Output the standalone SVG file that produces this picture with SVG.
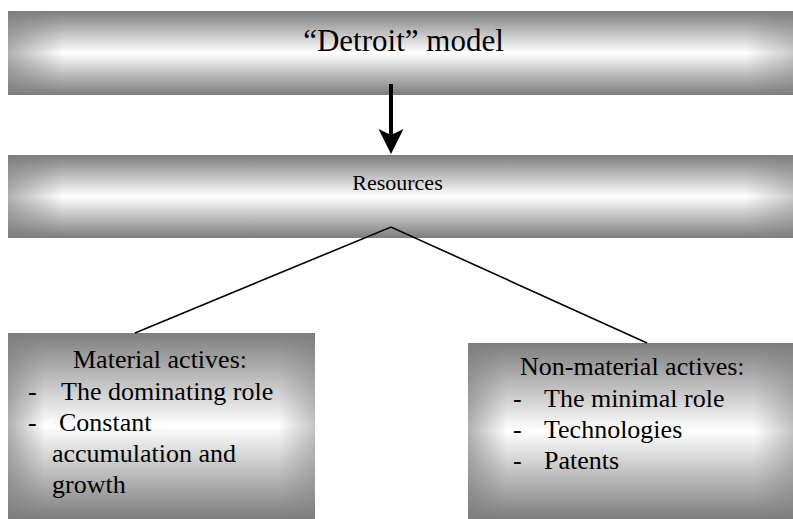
<svg xmlns="http://www.w3.org/2000/svg" width="793" height="519" viewBox="0 0 793 519">
  <defs>
    <!-- grey-white-grey shading used by every block -->
    <linearGradient id="shadeV" x1="0" y1="0" x2="0" y2="1">
      <stop offset="0" stop-color="#7d7d7d"/>
      <stop offset="0.5" stop-color="#ffffff"/>
      <stop offset="1" stop-color="#7d7d7d"/>
    </linearGradient>
    <!-- darkening towards the left and right ends -->
    <linearGradient id="shadeH" x1="0" y1="0" x2="1" y2="0">
      <stop offset="0" stop-color="#7d7d7d" stop-opacity="0.6"/>
      <stop offset="0.07" stop-color="#7d7d7d" stop-opacity="0"/>
      <stop offset="0.94" stop-color="#7d7d7d" stop-opacity="0"/>
      <stop offset="1" stop-color="#7d7d7d" stop-opacity="0.4"/>
    </linearGradient>
    <linearGradient id="shadeHBox" x1="0" y1="0" x2="1" y2="0">
      <stop offset="0" stop-color="#7d7d7d" stop-opacity="0.6"/>
      <stop offset="0.12" stop-color="#7d7d7d" stop-opacity="0"/>
      <stop offset="0.88" stop-color="#7d7d7d" stop-opacity="0"/>
      <stop offset="1" stop-color="#7d7d7d" stop-opacity="0.45"/>
    </linearGradient>
  </defs>
  <style>
    .fillV { fill: url(#shadeV); }
    .edge { fill: url(#shadeH); }
    .edgeBox { fill: url(#shadeHBox); }
    .title { font-size: 31px; text-anchor: middle; }
    .sub { font-size: 22px; text-anchor: middle; }
    .body { font-size: 26px; }
    .link { stroke: #000; stroke-width: 1.6; fill: none; }
    .arrow { stroke: #000; stroke-width: 4; fill: none; }
  </style>

  <g font-family="'Liberation Serif', 'Times New Roman', 'DejaVu Serif', serif" fill="#000">
    <g id="node-detroit-model">
      <rect class="fillV" x="8" y="11" width="785" height="84"/>
      <rect class="edge" x="8" y="11" width="785" height="84"/>
      <text class="title" x="403.5" y="51">“Detroit” model</text>
    </g>

    <g id="node-resources">
      <rect class="fillV" x="8" y="155" width="785" height="83"/>
      <rect class="edge" x="8" y="155" width="785" height="83"/>
      <text class="sub" x="397.5" y="190">Resources</text>
    </g>

    <g id="node-material">
      <rect class="fillV" x="8" y="333" width="307" height="186"/>
      <rect class="edgeBox" x="8" y="333" width="307" height="186"/>
      <text class="body" x="73" y="368">Material actives:</text>
      <text class="body" x="28" y="400">-</text>
      <text class="body" x="61" y="400">The dominating role</text>
      <text class="body" x="28" y="431">-</text>
      <text class="body" x="59" y="431">Constant</text>
      <text class="body" x="52" y="462">accumulation and</text>
      <text class="body" x="52" y="493">growth</text>
    </g>

    <g id="node-non-material">
      <rect class="fillV" x="468" y="343" width="325" height="176"/>
      <rect class="edgeBox" x="468" y="343" width="325" height="176"/>
      <text class="body" x="520" y="375">Non-material actives:</text>
      <text class="body" x="513" y="407">-</text>
      <text class="body" x="544" y="407">The minimal role</text>
      <text class="body" x="513" y="438">-</text>
      <text class="body" x="544" y="438">Technologies</text>
      <text class="body" x="513" y="469">-</text>
      <text class="body" x="544" y="469">Patents</text>
    </g>
  </g>

  <g id="connectors">
    <line class="arrow" x1="391" y1="84" x2="391" y2="135"/>
    <path d="M378.5,129 L391,135 L403.5,129 L391,154 Z" fill="#000"/>
    <polyline class="link" points="135,333 391,227 647,343"/>
  </g>
</svg>
